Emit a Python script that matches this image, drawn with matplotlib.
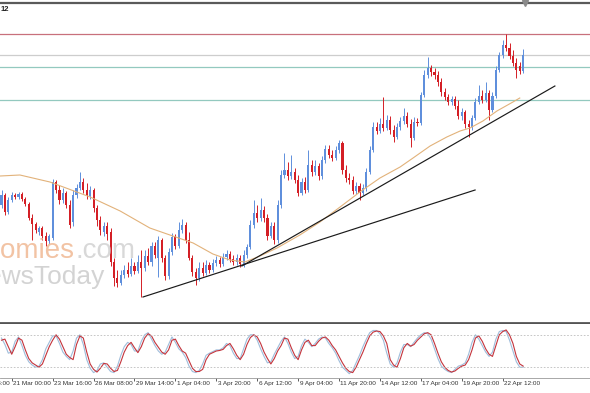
import numpy as np
import matplotlib
matplotlib.use('Agg')
import matplotlib.pyplot as plt
import matplotlib.transforms as mtransforms

plt.rcParams['font.family'] = ['Liberation Sans', 'DejaVu Sans']

# ------------------------------------------------------------
# data (H4 candles)
# ------------------------------------------------------------
opens = [110.95, 111.05, 110.88, 111.00, 111.05, 111.03, 111.06, 111.01, 110.96, 110.82,
         110.76, 110.68, 110.72, 110.64, 110.59, 110.62, 111.18, 111.10, 111.00, 111.07,
         110.95, 110.78, 111.05, 111.12, 111.18, 111.10, 111.04, 111.10, 110.92, 110.80,
         110.68, 110.74, 110.68, 110.38, 110.22, 110.17, 110.25, 110.30, 110.26, 110.34,
         110.29, 110.38, 110.32, 110.44, 110.38, 110.54, 110.42, 110.60, 110.42, 110.24,
         110.48, 110.63, 110.54, 110.70, 110.75, 110.60, 110.42, 110.28, 110.22, 110.32,
         110.27, 110.35, 110.30, 110.37, 110.40, 110.36, 110.43, 110.46, 110.41, 110.38,
         110.42, 110.36, 110.45, 110.53, 110.75, 110.87, 110.82, 110.90, 110.82, 110.64,
         110.74, 110.60, 110.95, 111.25, 111.30, 111.24, 111.28, 111.20, 111.07, 111.18,
         111.10, 111.35, 111.28, 111.34, 111.24, 111.40, 111.51, 111.45, 111.42, 111.50,
         111.57, 111.30, 111.22, 111.20, 111.09, 111.14, 111.07, 111.12, 111.28, 111.50,
         111.73, 111.69, 111.76, 111.72, 111.80, 111.70, 111.63, 111.73, 111.79, 111.84,
         111.76, 111.62, 111.78, 111.77, 112.05, 112.25, 112.32, 112.28, 112.25, 112.18,
         112.08, 112.03, 111.98, 112.01, 111.94, 111.84, 111.88, 111.76, 111.73, 111.82,
         111.98, 112.04, 112.00, 112.07, 111.90, 112.04, 112.30, 112.45, 112.55, 112.52,
         112.44, 112.37, 112.34, 112.29]
closes = [111.05, 110.88, 111.00, 111.05, 111.03, 111.06, 111.01, 110.96, 110.82, 110.76,
          110.70, 110.72, 110.64, 110.59, 110.64, 111.18, 111.10, 111.00, 111.07, 110.95,
          110.75, 111.05, 111.12, 111.18, 111.10, 111.05, 111.10, 110.92, 110.80, 110.70,
          110.74, 110.66, 110.38, 110.22, 110.17, 110.25, 110.30, 110.26, 110.34, 110.29,
          110.38, 110.32, 110.44, 110.38, 110.54, 110.45, 110.60, 110.42, 110.24, 110.48,
          110.63, 110.54, 110.70, 110.75, 110.60, 110.42, 110.28, 110.22, 110.32, 110.27,
          110.35, 110.30, 110.37, 110.40, 110.36, 110.43, 110.46, 110.41, 110.38, 110.42,
          110.36, 110.45, 110.53, 110.75, 110.87, 110.82, 110.90, 110.82, 110.64, 110.74,
          110.60, 110.95, 111.25, 111.30, 111.24, 111.28, 111.20, 111.07, 111.18, 111.10,
          111.35, 111.28, 111.34, 111.24, 111.40, 111.51, 111.45, 111.42, 111.50, 111.57,
          111.30, 111.22, 111.20, 111.09, 111.14, 111.07, 111.12, 111.28, 111.50, 111.73,
          111.69, 111.76, 111.72, 111.80, 111.70, 111.63, 111.73, 111.79, 111.84, 111.76,
          111.62, 111.78, 111.77, 112.05, 112.25, 112.32, 112.28, 112.25, 112.18, 112.08,
          112.03, 111.98, 112.01, 111.94, 111.84, 111.88, 111.76, 111.73, 111.82, 111.98,
          112.04, 112.00, 112.07, 111.90, 112.04, 112.30, 112.45, 112.55, 112.52, 112.44,
          112.37, 112.30, 112.29, 112.45]
highs = [111.10, 111.07, 111.03, 111.08, 111.07, 111.08, 111.08, 111.03, 110.98, 110.86,
         110.78, 110.74, 110.74, 110.68, 110.66, 111.21, 111.20, 111.15, 111.12, 111.09,
         111.00, 111.10, 111.16, 111.28, 111.22, 111.17, 111.14, 111.12, 110.95, 110.84,
         110.78, 110.78, 110.72, 110.42, 110.30, 110.30, 110.35, 110.38, 110.42, 110.38,
         110.45, 110.50, 110.50, 110.52, 110.58, 110.58, 110.64, 110.62, 110.45, 110.52,
         110.67, 110.66, 110.78, 110.81, 110.78, 110.68, 110.45, 110.32, 110.38, 110.38,
         110.40, 110.38, 110.41, 110.44, 110.43, 110.47, 110.50, 110.49, 110.45, 110.46,
         110.45, 110.50, 110.56, 110.80, 111.00, 110.95, 111.02, 110.94, 110.86, 110.78,
         110.78, 111.00, 111.30, 111.47, 111.38, 111.45, 111.32, 111.25, 111.22, 111.23,
         111.50, 111.40, 111.40, 111.37, 111.44, 111.55, 111.55, 111.50, 111.54, 111.60,
         111.59, 111.35, 111.27, 111.24, 111.18, 111.17, 111.16, 111.32, 111.54, 111.78,
         111.78, 111.82, 112.03, 111.85, 111.84, 111.75, 111.77, 111.83, 111.92, 111.88,
         111.81, 111.83, 111.82, 112.08, 112.30, 112.43, 112.35, 112.32, 112.29, 112.22,
         112.12, 112.06, 112.04, 112.04, 112.00, 111.92, 111.90, 111.80, 111.85, 112.02,
         112.15, 112.10, 112.18, 112.10, 112.08, 112.34, 112.48, 112.60, 112.66, 112.57,
         112.50, 112.42, 112.38, 112.51]
lows = [110.92, 110.85, 110.86, 110.98, 111.01, 111.01, 110.99, 110.94, 110.80, 110.60,
        110.67, 110.65, 110.60, 110.54, 110.56, 110.60, 111.07, 110.96, 110.97, 110.92,
        110.72, 110.74, 111.02, 111.10, 111.07, 111.01, 111.01, 110.88, 110.74, 110.65,
        110.64, 110.60, 110.34, 110.14, 110.13, 110.15, 110.22, 110.23, 110.24, 110.26,
        110.27, 110.03, 110.29, 110.35, 110.34, 110.42, 110.23, 110.38, 110.20, 110.21,
        110.45, 110.51, 110.52, 110.67, 110.57, 110.40, 110.24, 110.15, 110.19, 110.24,
        110.25, 110.27, 110.28, 110.34, 110.33, 110.34, 110.40, 110.38, 110.35, 110.35,
        110.33, 110.33, 110.42, 110.51, 110.72, 110.78, 110.79, 110.78, 110.60, 110.62,
        110.56, 110.57, 110.92, 111.22, 111.20, 111.21, 111.17, 111.04, 111.05, 111.07,
        111.08, 111.24, 111.25, 111.20, 111.21, 111.37, 111.42, 111.39, 111.40, 111.47,
        111.26, 111.18, 111.16, 111.06, 111.06, 111.00, 111.05, 111.09, 111.26, 111.48,
        111.66, 111.67, 111.69, 111.70, 111.66, 111.58, 111.61, 111.70, 111.76, 111.73,
        111.53, 111.60, 111.74, 111.75, 112.03, 112.22, 112.24, 112.21, 112.14, 112.04,
        112.00, 111.95, 111.95, 111.91, 111.81, 111.80, 111.72, 111.63, 111.70, 111.80,
        111.96, 111.97, 111.98, 111.80, 111.88, 112.02, 112.28, 112.42, 112.49, 112.41,
        112.34, 112.22, 112.26, 112.27]

# moving average (tan line), sampled at bar positions
ma_bars = [-0.4, 5.4, 14.2, 26.0, 34.8, 43.5, 49.4, 56.2, 62.0, 67.0, 71.4, 75.8, 80.8,
           87.5, 93.4, 99.3, 105.1, 111.0, 116.9, 120.7, 125.7, 130.6, 134.5, 137.4,
           141.2, 145.3, 150.0, 152.0]
ma_vals = [111.24, 111.25, 111.18, 111.03, 110.89, 110.72, 110.65, 110.57, 110.46, 110.40,
           110.38, 110.44, 110.52, 110.65, 110.78, 110.93, 111.08, 111.22, 111.33, 111.42,
           111.54, 111.63, 111.69, 111.72, 111.79, 111.89, 111.98, 112.02]

# horizontal levels
level_red = 112.66
level_gray = 112.45
levels_teal = [112.325, 112.005]

# trend lines (bar, price)
trend_a = ([41.5, 138.9], [110.03, 111.10])
trend_b = ([70.5, 162.3], [110.34, 112.14])

# stochastic oscillator
stoch_k = [74, 62, 46, 48, 68, 76, 60, 42, 30, 24, 20, 22, 34, 54, 66, 78, 78, 64, 48, 40,
           34, 50, 74, 80, 62, 34, 18, 10, 14, 26, 28, 20, 12, 10, 22, 42, 58, 66, 62, 50,
           50, 68, 80, 84, 72, 60, 50, 44, 48, 62, 76, 66, 54, 48, 38, 22, 12, 10, 14, 26,
           42, 46, 49, 52, 52, 56, 64, 60, 46, 36, 36, 54, 72, 80, 80, 70, 54, 40, 28, 30,
           44, 56, 68, 76, 64, 48, 36, 40, 60, 72, 66, 58, 64, 72, 76, 74, 64, 56, 46, 32,
           20, 14, 8, 14, 28, 42, 58, 72, 84, 88, 88, 82, 70, 46, 26, 20, 28, 48, 62, 62,
           58, 66, 74, 80, 84, 82, 72, 54, 36, 22, 16, 12, 10, 16, 22, 24, 28, 44, 66, 80,
           72, 60, 48, 40, 48, 72, 86, 88, 86, 70, 50, 30, 20, 20]
stoch_d = [70, 72, 58, 44, 58, 74, 70, 52, 36, 28, 24, 20, 26, 42, 58, 70, 80, 72, 58, 44,
           38, 34, 62, 78, 74, 48, 26, 16, 11, 18, 27, 26, 18, 12, 14, 30, 48, 60, 66, 56,
           47, 58, 74, 82, 78, 66, 57, 48, 44, 52, 70, 72, 60, 50, 46, 32, 18, 12, 12, 16,
           34, 44, 47, 50, 51, 53, 60, 64, 54, 42, 34, 44, 62, 75, 80, 76, 64, 48, 36, 26,
           36, 50, 60, 74, 72, 56, 42, 34, 52, 66, 70, 60, 60, 68, 74, 76, 70, 60, 52, 40,
           28, 18, 12, 10, 20, 34, 48, 64, 78, 85, 87, 86, 78, 64, 34, 24, 20, 36, 56, 64,
           59, 62, 70, 76, 82, 84, 80, 64, 46, 30, 20, 14, 11, 13, 18, 22, 24, 34, 52, 74,
           78, 68, 54, 44, 40, 60, 80, 86, 89, 80, 64, 40, 26, 22]

# x axis labels
label_bars = [-9, 3, 15, 27, 39, 51, 63, 75, 87, 99, 111, 123, 135, 147]
label_texts = ['18 Mar 08:00', '21 Mar 00:00', '23 Mar 16:00', '26 Mar 08:00',
               '29 Mar 14:00', '1 Apr 04:00', '3 Apr 20:00', '6 Apr 12:00',
               '9 Apr 04:00', '11 Apr 20:00', '14 Apr 12:00', '17 Apr 04:00',
               '19 Apr 20:00', '22 Apr 12:00']

# ------------------------------------------------------------
# figure
# ------------------------------------------------------------
W, H = 590, 393
fig = plt.figure(figsize=(W / 100, H / 100), dpi=100)
fig.patch.set_facecolor('white')

ax = fig.add_axes([0, (H - 323) / H, 1, 320 / H])
axs = fig.add_axes([0, (H - 378) / H, 1, 54 / H])

XLIM = (-0.44, 172.6)

# candles
o = np.array(opens)
c = np.array(closes)
hi = np.array(highs)
lo = np.array(lows)
idx = np.arange(len(o))
up = c >= o
col = np.where(up, '#5f8fdc', '#d41f26')
ax.vlines(idx, lo, hi, colors=col, linewidth=0.7, zorder=3)
body = np.maximum(np.abs(c - o), 0.008)
ax.bar(idx, body, bottom=np.minimum(o, c), width=0.62, color=col, linewidth=0, zorder=4)

# levels
ax.axhline(level_red, color='#c8707c', linewidth=0.9, zorder=1)
ax.axhline(level_gray, color='#cdcdcd', linewidth=0.9, zorder=1)
for lv in levels_teal:
    ax.axhline(lv, color='#93c9bf', linewidth=0.9, zorder=1)

# moving average and trend lines
ax.plot(ma_bars, ma_vals, color='#e2b27a', linewidth=0.8, zorder=5)
ax.plot(trend_a[0], trend_a[1], color='#1a1a1a', linewidth=0.85, zorder=6)
ax.plot(trend_b[0], trend_b[1], color='#1a1a1a', linewidth=0.85, zorder=6)

ax.set_xlim(*XLIM)
ax.set_ylim(109.77, 112.97)
ax.set_xticks([])
ax.set_yticks([])
for s in ['left', 'right']:
    ax.spines[s].set_visible(False)
ax.spines['top'].set_color('#5a5a5a')
ax.spines['top'].set_linewidth(1.6)
ax.spines['bottom'].set_color('#555555')
ax.spines['bottom'].set_linewidth(2.0)

# chart shift marker
ax.plot([153.5], [1.0], marker='v', markersize=4, color='#8a8a8a',
        transform=mtransforms.blended_transform_factory(ax.transData, ax.transAxes),
        clip_on=False, zorder=10)

# watermark (cropped at the left edge, as in the screenshot)
fig.text(75 / W, (H - 258) / H, 'economies', ha='right', va='baseline',
         fontsize=20, color='#f0b994', alpha=0.85, zorder=20)
fig.text(75 / W, (H - 258) / H, '.com', ha='left', va='baseline',
         fontsize=20, color='#d2d2d2', alpha=0.85, zorder=20)
fig.text(105 / W, (H - 284) / H, 'NewsToday', ha='right', va='baseline',
         fontsize=19, color='#cccccc', alpha=0.85, zorder=20)

# header fragment
fig.text(1 / W, (H - 11) / H, '12', ha='left', va='baseline', fontsize=5.5,
         fontweight='bold', color='#222222')

# stochastic panel
sidx = np.arange(len(stoch_k))
axs.plot(sidx, stoch_k, color='#9fbddb', linewidth=0.8)
axs.plot(sidx, stoch_d, color='#c4343c', linewidth=0.8)
for lv in (80, 20):
    axs.axhline(lv, color='#bdbdbd', linewidth=0.6, linestyle=(0, (2, 2)))
axs.set_xlim(*XLIM)
axs.set_ylim(0, 100)
axs.set_yticks([])
axs.set_xticks([b for b in label_bars if b >= XLIM[0]])
axs.set_xticklabels([])
axs.tick_params(axis='x', length=2, width=0.6, color='#444444', direction='out')
for s in ['left', 'right', 'top']:
    axs.spines[s].set_visible(False)
axs.spines['bottom'].set_color('#9a9a9a')
axs.spines['bottom'].set_linewidth(0.6)

trans = mtransforms.blended_transform_factory(axs.transData, axs.transAxes)
for b, t in zip(label_bars, label_texts):
    axs.text(b + 0.4, -0.06, t, transform=trans, ha='left', va='top',
             fontsize=4.6, color='#333333', clip_on=False)

fig.savefig('out.png', dpi=100, facecolor='white')
